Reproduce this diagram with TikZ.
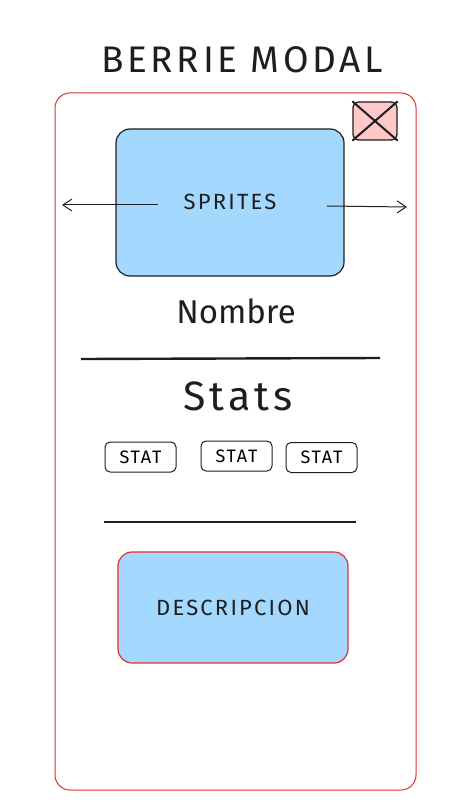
\documentclass[tikz,border=0pt]{standalone}
\usepackage{fontspec}
\setmainfont{Fira Sans}
\newfontfamily\wide[LetterSpace=10]{Fira Sans}
\usetikzlibrary{arrows.meta}
\definecolor{frame}{HTML}{E03131}
\definecolor{ink}{HTML}{1E1E1E}
\definecolor{bluefill}{HTML}{A5D8FF}
\definecolor{pinkfill}{HTML}{FFC9C9}
\begin{document}
\begin{tikzpicture}[x=1pt,y=-1pt,
  box/.style={draw=ink,line width=1.2pt,rounded corners=14pt,inner sep=0pt},
  statbox/.style={draw=ink,line width=1pt,rounded corners=5pt,minimum width=71pt,minimum height=30pt,inner sep=0pt,font=\wide\fontsize{18}{20}\selectfont},
  rule/.style={draw=ink,line width=2.4pt},
  arr/.style={draw=ink,line width=1pt,-{Straight Barb[length=9pt,width=12pt]}},
  lbl/.style={text=ink,inner sep=0pt}]
\useasboundingbox (0,0) rectangle (455,802);
\node[lbl,font=\wide\fontsize{37}{40}\selectfont] (title) at (242,60) {BERRIE MODAL};
\node[draw=frame,line width=1pt,rounded corners=15pt,minimum width=361pt,minimum height=697pt,inner sep=0pt] (frame) at (235.5,441.5) {};
\node[draw=ink,fill=pinkfill,line width=1.3pt,rounded corners=6pt,minimum width=44pt,minimum height=38pt,inner sep=0pt] (close) at (375,121) {};
\draw[ink,line width=2pt] (close.north west) -- (close.south east) (close.north east) -- (close.south west);
\node[box,fill=bluefill,minimum width=228pt,minimum height=147pt] (sprites) at (230,202.5) {};
\node[lbl,font=\wide\fontsize{22}{24}\selectfont] (spritestxt) at (230,202) {SPRITES};
\coordinate (la) at (158,205);
\coordinate (lb) at (62,205);
\coordinate (ra) at (327,206);
\coordinate (rb) at (407,207);
\draw[arr] (la) -- (lb);
\draw[arr] (ra) -- (rb);
\node[lbl,font=\fontsize{33}{36}\selectfont] (nombre) at (236,311) {Nombre};
\coordinate (r1a) at (81,359);
\coordinate (r1b) at (380,358);
\draw[rule] (r1a) -- (r1b);
\node[lbl,font=\wide\fontsize{41}{44}\selectfont] (stats) at (238,396) {Stats};
\node[statbox] (s1) at (140.5,457) {STAT};
\node[statbox] (s2) at (236.5,456) {STAT};
\node[statbox] (s3) at (321.5,457.5) {STAT};
\coordinate (r2a) at (104,522);
\coordinate (r2b) at (356,522);
\draw[rule] (r2a) -- (r2b);
\node[draw=frame,fill=bluefill,line width=1.2pt,rounded corners=14pt,minimum width=230pt,minimum height=111pt,inner sep=0pt,font=\wide\fontsize{22}{24}\selectfont,text=ink] (desc) at (233,607.5) {DESCRIPCION};
\end{tikzpicture}
\end{document}
